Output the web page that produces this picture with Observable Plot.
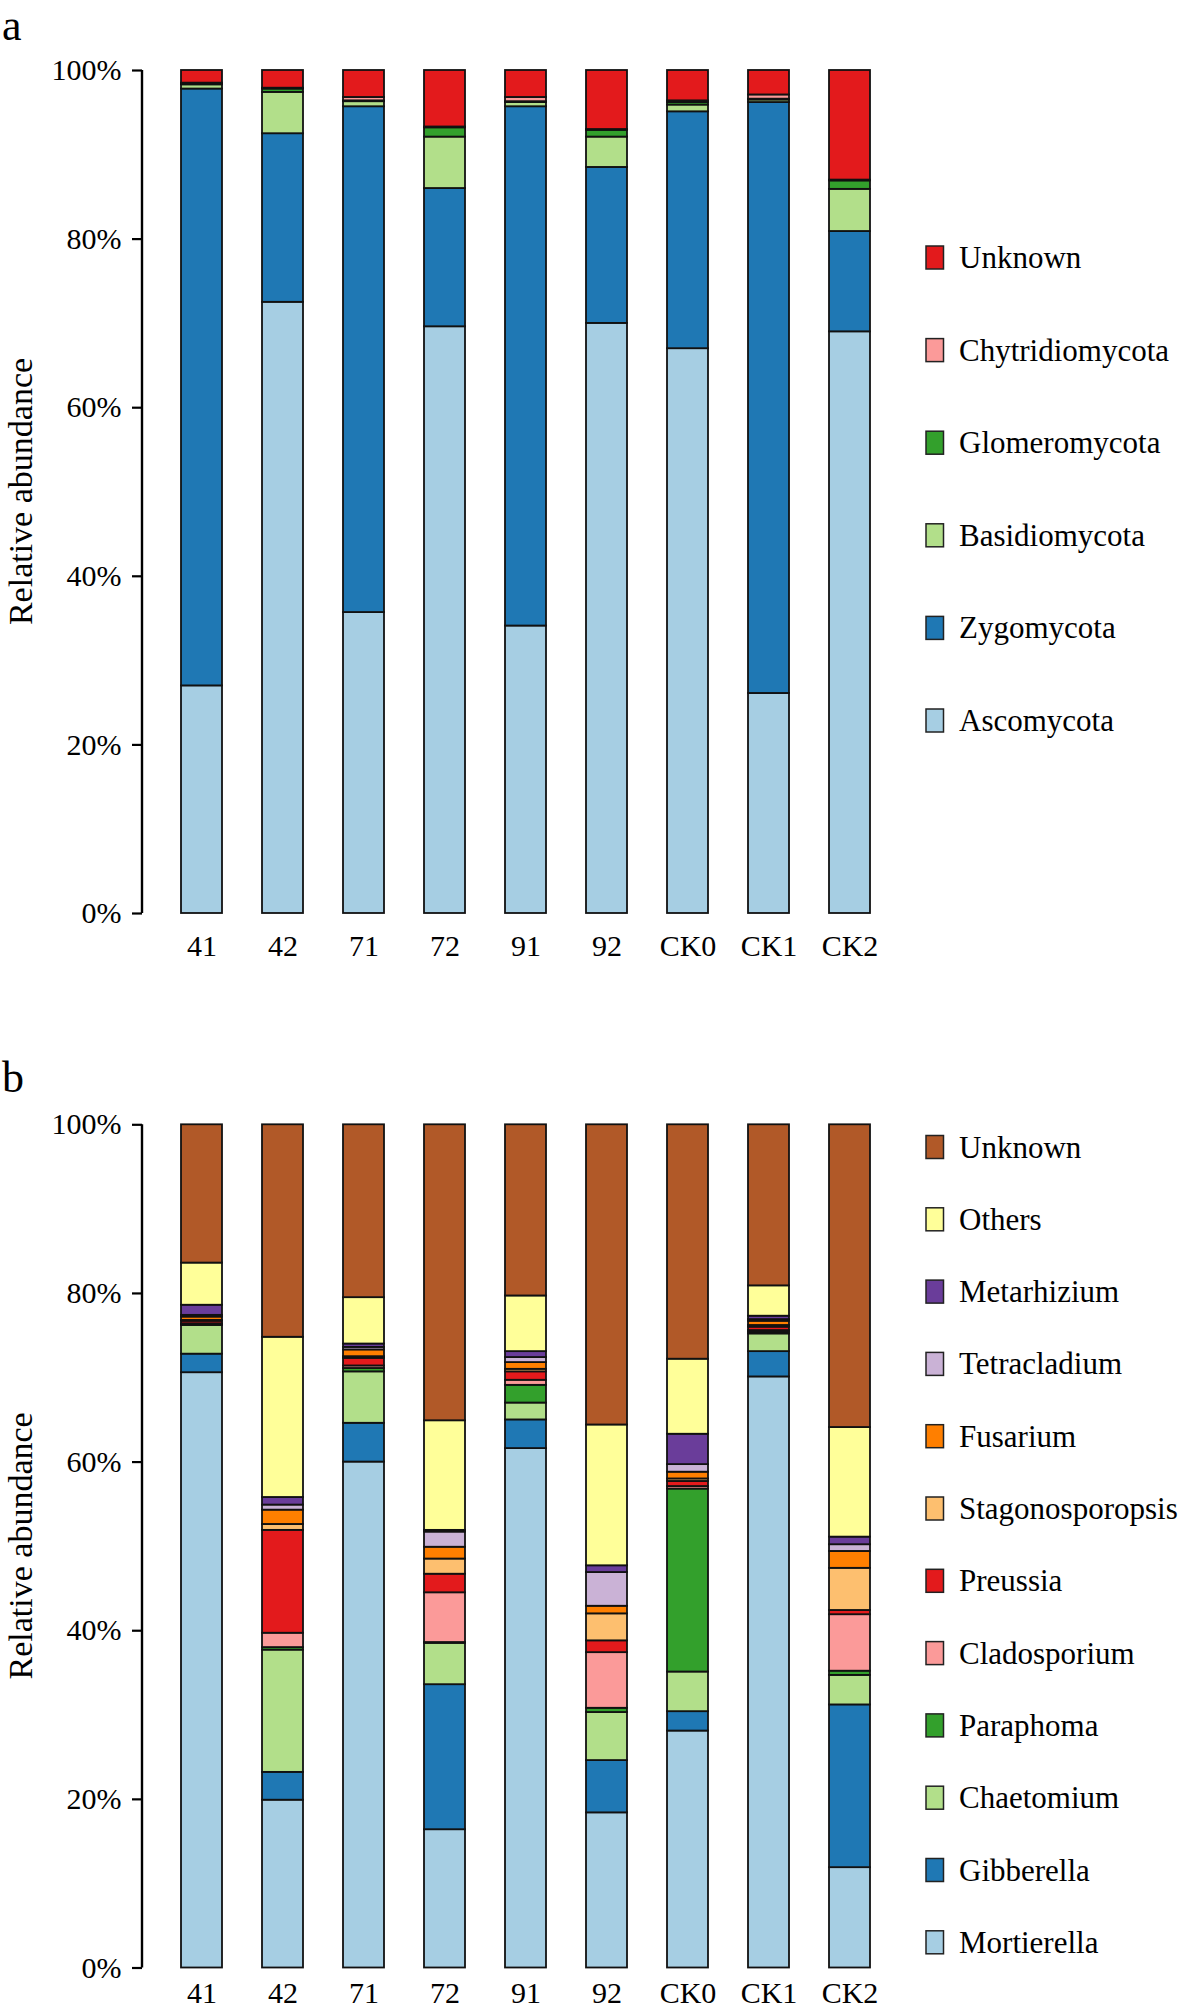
<!DOCTYPE html>
<html>
<head>
<meta charset="utf-8">
<script src="https://cdn.jsdelivr.net/npm/d3@7"></script>
<script src="https://cdn.jsdelivr.net/npm/@observablehq/plot@0.6"></script>
<style>
  body { margin: 0; background: #fff; }
  #root { position: relative; width: 1181px; height: 2010px; overflow: hidden; background: #fff; }
  #root .panel { position: absolute; left: 0; }
  #overlay { position: absolute; left: 0; top: 0; pointer-events: none; }
</style>
</head>
<body>
<div id="root"></div>
<script>
// ---------- data ----------
const samples = ["41", "42", "71", "72", "91", "92", "CK0", "CK1", "CK2"];
const yTicks = [0, 20, 40, 60, 80, 100];

// Panel a: phyla (stack order bottom -> top)
const phyla = ["Ascomycota", "Zygomycota", "Basidiomycota", "Glomeromycota", "Chytridiomycota", "Unknown"];
const phylaColors = ["#A6CEE3", "#1F78B4", "#B2DF8A", "#33A02C", "#FB9A99", "#E31A1C"];
const ascomycota      = [27.0, 72.5, 35.7, 69.6, 34.1, 70.0, 67.0, 26.1, 69.0];
const zygomycota      = [70.8, 20.0, 60.0, 16.4, 61.6, 18.5, 28.1, 70.1, 11.9];
const basidiomycota   = [0.5, 4.9, 0.6, 6.1, 0.5, 3.6, 0.8, 0.3, 5.0];
const glomeromycota   = [0.1, 0.4, 0.1, 1.1, 0.1, 0.8, 0.3, 0.1, 1.0];
const chytridiomycota = [0.1, 0.1, 0.4, 0.1, 0.5, 0.1, 0.2, 0.5, 0.1];
const unknownPhylum   = [1.5, 2.1, 3.2, 6.7, 3.2, 7.0, 3.6, 2.9, 13.0];

// Panel b: genera (stack order bottom -> top)
const genera = ["Mortierella", "Gibberella", "Chaetomium", "Paraphoma", "Cladosporium", "Preussia",
  "Stagonosporopsis", "Fusarium", "Tetracladium", "Metarhizium", "Others", "Unknown"];
const generaColors = ["#A6CEE3", "#1F78B4", "#B2DF8A", "#33A02C", "#FB9A99", "#E31A1C",
  "#FDBF6F", "#FF7F00", "#CAB2D6", "#6A3D9A", "#FFFF99", "#B15928"];
const mortierella      = [70.6, 19.9, 60.0, 16.4, 61.6, 18.4, 28.1, 70.1, 11.9];
const gibberella       = [2.2, 3.3, 4.6, 17.2, 3.4, 6.2, 2.3, 3.0, 19.3];
const chaetomium       = [3.4, 14.5, 6.1, 4.9, 2.0, 5.7, 4.7, 2.1, 3.5];
const paraphoma        = [0.1, 0.3, 0.4, 0.1, 2.1, 0.5, 21.7, 0.2, 0.5];
const cladosporium     = [0.1, 1.7, 0.3, 5.9, 0.6, 6.6, 0.3, 0.2, 6.7];
const preussia         = [0.3, 12.2, 0.9, 2.2, 1.0, 1.4, 0.6, 0.4, 0.5];
const stagonosporopsis = [0.1, 0.7, 0.2, 1.8, 0.3, 3.2, 0.3, 0.2, 5.0];
const fusarium         = [0.4, 1.7, 0.8, 1.4, 0.8, 0.9, 0.8, 0.5, 2.0];
const tetracladium     = [0.2, 0.6, 0.3, 1.8, 0.6, 4.0, 0.9, 0.2, 0.8];
const metarhizium      = [1.2, 0.9, 0.4, 0.2, 0.7, 0.8, 3.6, 0.4, 0.9];
const others           = [5.0, 19.0, 5.5, 13.0, 6.6, 16.7, 8.9, 3.6, 13.0];
const unknownGenus     = [16.4, 25.2, 20.5, 35.1, 20.3, 35.6, 27.8, 19.1, 35.9];

const phylaSeries = [ascomycota, zygomycota, basidiomycota, glomeromycota, chytridiomycota, unknownPhylum];
const generaSeries = [mortierella, gibberella, chaetomium, paraphoma, cladosporium, preussia,
  stagonosporopsis, fusarium, tetracladium, metarhizium, others, unknownGenus];

function longTable(names, series) {
  return names.flatMap((name, k) => samples.map((s, i) => ({sample: s, taxon: name, value: series[k][i]})));
}

// ---------- layout ----------
const W = 1181;
const FONT = '"Liberation Serif", "Times New Roman", serif';
const root = document.getElementById("root");

function makePanel({names, colors, series, top, height, marginTop, marginBottom, labelPad}) {
  const data = longTable(names, series);
  const plot = Plot.plot({
    width: W,
    height,
    marginTop,
    marginBottom,
    marginLeft: 142,
    marginRight: 273,
    style: {fontFamily: FONT, fontSize: "30px", color: "#000", background: "transparent", overflow: "visible"},
    x: {domain: samples, paddingInner: 0.5, paddingOuter: 0.478},
    y: {domain: [0, 100]},
    color: {domain: names, range: colors},
    marks: [
      Plot.barY(data, {x: "sample", y: "value", fill: "taxon", order: names, stroke: "#111", strokeWidth: 1.8}),
      Plot.axisY({ticks: yTicks, tickFormat: d => d + "%", tickSize: 10, tickPadding: 11, fontSize: 30, strokeWidth: 2.2, label: null}),
      Plot.axisX({tickSize: 0, tickPadding: labelPad, fontSize: 30, label: null})
    ]
  });
  const ys = plot.scale("y");
  d3.select(plot).append("line")
    .attr("x1", 142).attr("x2", 142)
    .attr("y1", ys.apply(0)).attr("y2", ys.apply(100))
    .attr("stroke", "#000").attr("stroke-width", 2.4);
  plot.classList.add("panel");
  plot.style.top = top + "px";
  root.appendChild(plot);
  return {y0: top + ys.apply(0), y100: top + ys.apply(100)};
}

const pa = makePanel({names: phyla, colors: phylaColors, series: phylaSeries,
  top: 0, height: 1000, marginTop: 70, marginBottom: 87, labelPad: 21.5});
const pb = makePanel({names: genera, colors: generaColors, series: generaSeries,
  top: 1054, height: 956, marginTop: 70.3, marginBottom: 42.5, labelPad: 13.5});

// ---------- overlay: panel letters, y labels, legends ----------
const svg = d3.select(root).append("svg")
  .attr("id", "overlay").attr("width", W).attr("height", 2010)
  .style("font-family", FONT);

svg.append("text").attr("x", 2).attr("y", 40).attr("font-size", 44).text("a");
svg.append("text").attr("x", 2).attr("y", 1092).attr("font-size", 44).text("b");

for (const p of [pa, pb]) {
  const cy = (p.y0 + p.y100) / 2;
  svg.append("text")
    .attr("transform", `translate(31.5,${cy}) rotate(-90)`)
    .attr("text-anchor", "middle")
    .attr("font-size", 34)
    .text("Relative abundance");
}

function legend(names, colors, firstCenter, spacing) {
  const items = names.map((n, i) => ({n, c: colors[i]})).reverse();
  items.forEach((d, i) => {
    const cy = firstCenter + i * spacing;
    svg.append("rect").attr("x", 926).attr("y", cy - 11.5).attr("width", 17.5).attr("height", 23)
      .attr("fill", d.c).attr("stroke", "#222").attr("stroke-width", 1.5);
    svg.append("text").attr("x", 959).attr("y", cy + 10.5).attr("font-size", 31).text(d.n);
  });
}
legend(phyla, phylaColors, 257.5, 92.6);
legend(genera, generaColors, 1147, 72.3);
</script>
</body>
</html>
